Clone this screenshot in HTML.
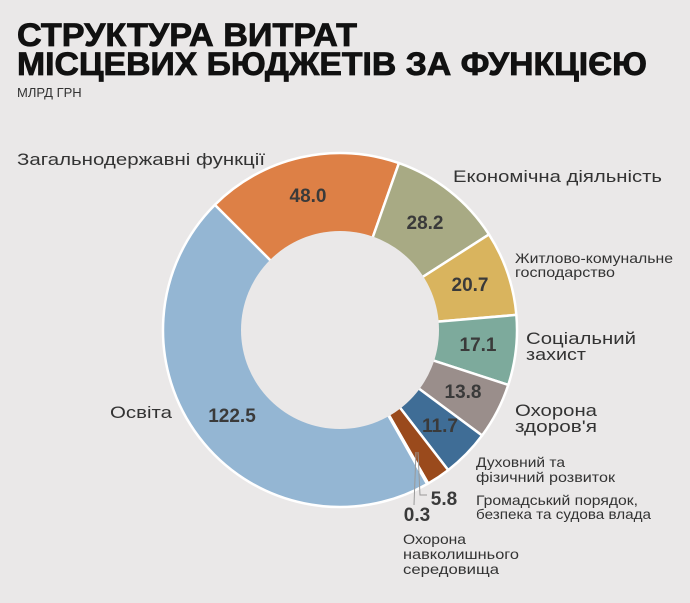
<!DOCTYPE html>
<html><head><meta charset="utf-8"><style>
html,body{margin:0;padding:0;background:#EAE8E8;}
svg{display:block;font-family:"Liberation Sans",sans-serif;}
.t{font-weight:bold;font-size:32px;fill:#111;stroke:#111;stroke-width:0.8px;}
.l{font-size:17px;fill:#333;}
.s{font-size:14px;fill:#333;}
.v{font-size:19px;font-weight:bold;fill:#3a3a3a;text-anchor:middle;}
</style></head><body>
<svg id="c" width="690" height="603" viewBox="0 0 690 603">
<rect width="690" height="603" fill="#EAE8E8"/>
<text class="t" x="17" y="46" textLength="340" lengthAdjust="spacingAndGlyphs">СТРУКТУРА ВИТРАТ</text>
<text class="t" x="17" y="75" textLength="630" lengthAdjust="spacingAndGlyphs">МІСЦЕВИХ БЮДЖЕТІВ ЗА ФУНКЦІЄЮ</text>
<text x="17" y="97" style="font-size:13px;fill:#333">МЛРД ГРН</text>
<g id="pie"></g>
<circle cx="340" cy="330" r="99" fill="#EAE8E8"/>
<text class="l" x="17" y="165" textLength="248" lengthAdjust="spacingAndGlyphs">Загальнодержавні функції</text>
<text class="l" x="453" y="182" textLength="209" lengthAdjust="spacingAndGlyphs">Економічна діяльність</text>
<text class="s" x="515" y="263" textLength="158" lengthAdjust="spacingAndGlyphs">Житлово-комунальне</text>
<text class="s" x="515" y="277" textLength="100" lengthAdjust="spacingAndGlyphs">господарство</text>
<text class="l" x="526" y="344" textLength="110" lengthAdjust="spacingAndGlyphs">Соціальний</text>
<text class="l" x="526" y="360" textLength="60" lengthAdjust="spacingAndGlyphs">захист</text>
<text class="l" x="515" y="416" textLength="82" lengthAdjust="spacingAndGlyphs">Охорона</text>
<text class="l" x="515" y="432" textLength="82" lengthAdjust="spacingAndGlyphs">здоров'я</text>
<text class="s" x="476" y="467" textLength="89" lengthAdjust="spacingAndGlyphs">Духовний та</text>
<text class="s" x="476" y="482" textLength="139" lengthAdjust="spacingAndGlyphs">фізичний розвиток</text>
<text class="s" x="476" y="505" textLength="162" lengthAdjust="spacingAndGlyphs">Громадський порядок,</text>
<text class="s" x="476" y="519" textLength="175" lengthAdjust="spacingAndGlyphs">безпека та судова влада</text>
<text class="s" x="403" y="544" textLength="63" lengthAdjust="spacingAndGlyphs">Охорона</text>
<text class="s" x="403" y="559" textLength="116" lengthAdjust="spacingAndGlyphs">навколишнього</text>
<text class="s" x="403" y="574" textLength="96" lengthAdjust="spacingAndGlyphs">середовища</text>
<text class="l" x="110" y="418" textLength="62" lengthAdjust="spacingAndGlyphs">Освіта</text>
<text class="v" x="308" y="202">48.0</text>
<text class="v" x="425" y="229">28.2</text>
<text class="v" x="470" y="291">20.7</text>
<text class="v" x="478" y="351">17.1</text>
<text class="v" x="463" y="398">13.8</text>
<text class="v" x="440" y="432">11.7</text>
<text class="v" x="232" y="422">122.5</text>
<text class="v" x="444" y="505">5.8</text>
<text class="v" x="417" y="521">0.3</text>
<polyline points="418,452 420,495 427,495" fill="none" stroke="#999" stroke-width="1"/>
<polyline points="416,452 414,505" fill="none" stroke="#999" stroke-width="1"/>
</svg>
<script>
var d=[[48,"#DD8046"],[28.2,"#A8AA84"],[20.7,"#D9B45E"],[17.1,"#7DAA9C"],[13.8,"#9A8E8B"],[11.7,"#3F6D96"],[5.8,"#9A4A1C"],[0.3,"#ffffff"],[122.5,"#94B6D3"]];
var tot=0;d.forEach(function(x){tot+=x[0]});
var a=315,cx=340,cy=330,R=177,g=document.getElementById("pie"),h="";
function p(r,ang){var t=(ang-90)*Math.PI/180;return (cx+r*Math.cos(t)).toFixed(2)+","+(cy+r*Math.sin(t)).toFixed(2);}
d.forEach(function(x){var s=x[0]/tot*360,e=a+s,l=s>180?1:0;
h+='<path d="M'+cx+','+cy+' L'+p(R,a)+' A'+R+','+R+' 0 '+l+' 1 '+p(R,e)+' Z" fill="'+x[1]+'" stroke="#fff" stroke-width="2.5" stroke-linejoin="round"/>';a=e;});
g.innerHTML=h;
</script>
</body></html>
